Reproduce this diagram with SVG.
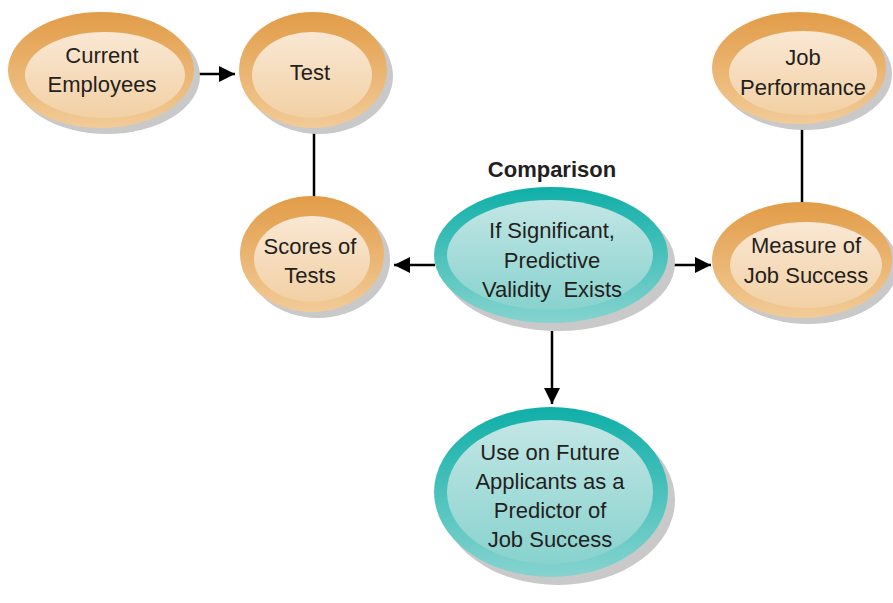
<svg xmlns="http://www.w3.org/2000/svg" width="893" height="603" viewBox="0 0 893 603">
<defs>
<linearGradient id="oOut" x1="0" y1="0" x2="0" y2="1"><stop offset="0" stop-color="#E29C48"/><stop offset="1" stop-color="#F2CB98"/></linearGradient>
<linearGradient id="oIn" x1="0" y1="0" x2="0" y2="1"><stop offset="0" stop-color="#FAE8D4"/><stop offset="1" stop-color="#F2D0A4"/></linearGradient>
<linearGradient id="tOut" x1="0" y1="0" x2="0" y2="1"><stop offset="0" stop-color="#0FAFA8"/><stop offset="1" stop-color="#86D3CF"/></linearGradient>
<linearGradient id="tIn" x1="0" y1="0" x2="0" y2="1"><stop offset="0" stop-color="#C2E6E5"/><stop offset="1" stop-color="#88D2CE"/></linearGradient>
<marker id="arr" viewBox="0 0 10 10" refX="10" refY="5" markerWidth="16" markerHeight="16" markerUnits="userSpaceOnUse" orient="auto"><path d="M0,0 L10,5 L0,10 z" fill="#000"/></marker>
</defs>
<style>
.sh{fill:#C9C9C9}
.oo{fill:url(#oOut)}
.oi{fill:url(#oIn)}
.to{fill:url(#tOut)}
.ti{fill:url(#tIn)}
text{font-family:"Liberation Sans","DejaVu Sans",sans-serif;font-size:22px;fill:#231F20;text-anchor:middle}
.ttl{font-weight:bold;font-size:22px}
.ln{stroke:#000;stroke-width:2.5;fill:none}
</style>
<rect width="893" height="603" fill="#fff"/>
<g id="connectors">
<line class="ln" x1="194" y1="74" x2="235" y2="74" marker-end="url(#arr)"/>
<line class="ln" x1="314" y1="128" x2="314" y2="197"/>
<line class="ln" x1="802" y1="126" x2="802" y2="203"/>
<line class="ln" x1="435" y1="265" x2="394" y2="265" marker-end="url(#arr)"/>
<line class="ln" x1="668" y1="265" x2="711" y2="265" marker-end="url(#arr)"/>
<line class="ln" x1="552" y1="331" x2="552" y2="404" marker-end="url(#arr)"/>
</g>
<g id="current-employees">
<ellipse class="sh" cx="107" cy="76" rx="93" ry="58"/>
<ellipse class="oo" cx="101" cy="70" rx="93" ry="58"/>
<ellipse class="oi" cx="105" cy="75" rx="80" ry="43"/>
<text x="102" y="63">Current</text>
<text x="102" y="92">Employees</text>
</g>
<g id="test">
<ellipse class="sh" cx="319" cy="76" rx="74" ry="58"/>
<ellipse class="oo" cx="313" cy="70" rx="74" ry="58"/>
<ellipse class="oi" cx="312" cy="75" rx="60" ry="43"/>
<text x="310" y="80">Test</text>
</g>
<g id="scores-of-tests">
<ellipse class="sh" cx="318" cy="260" rx="72" ry="58"/>
<ellipse class="oo" cx="312" cy="254" rx="72" ry="58"/>
<ellipse class="oi" cx="312" cy="259" rx="58" ry="43"/>
<text x="310" y="254">Scores of</text>
<text x="310" y="283">Tests</text>
</g>
<g id="comparison">
<text class="ttl" x="552" y="177">Comparison</text>
<ellipse class="sh" cx="558" cy="263" rx="117" ry="68"/>
<ellipse class="to" cx="551" cy="255" rx="117" ry="68"/>
<ellipse class="ti" cx="550" cy="255" rx="103" ry="55"/>
<text x="552" y="238">If Significant,</text>
<text x="552" y="268">Predictive</text>
<text x="552" y="297" xml:space="preserve">Validity  Exists</text>
</g>
<g id="job-performance">
<ellipse class="sh" cx="805" cy="74" rx="87" ry="56"/>
<ellipse class="oo" cx="799" cy="68" rx="87" ry="56"/>
<ellipse class="oi" cx="803" cy="73" rx="74" ry="42"/>
<text x="803" y="65">Job</text>
<text x="803" y="95">Performance</text>
</g>
<g id="measure-of-job-success">
<ellipse class="sh" cx="808" cy="266" rx="90" ry="58"/>
<ellipse class="oo" cx="802" cy="260" rx="90" ry="58"/>
<ellipse class="oi" cx="806" cy="265" rx="76" ry="43"/>
<text x="806" y="253">Measure of</text>
<text x="806" y="283">Job Success</text>
</g>
<g id="use-on-future-applicants">
<ellipse class="sh" cx="558" cy="500" rx="117" ry="85"/>
<ellipse class="to" cx="551" cy="492" rx="117" ry="85"/>
<ellipse class="ti" cx="550" cy="492" rx="103" ry="72"/>
<text x="550" y="460">Use on Future</text>
<text x="550" y="489">Applicants as a</text>
<text x="550" y="518">Predictor of</text>
<text x="550" y="547">Job Success</text>
</g>
</svg>
